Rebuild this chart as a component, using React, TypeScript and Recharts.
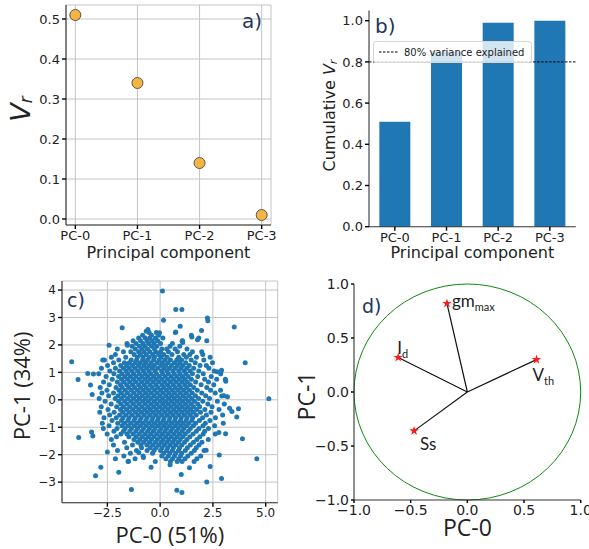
import {
  ScatterChart,
  Scatter,
  BarChart,
  Bar,
  XAxis,
  YAxis,
  CartesianGrid,
  ReferenceLine,
  ReferenceArea,
  Symbols,
} from "recharts";

// ---- panel a / b : explained variance ----
const pcLabels = ["PC-0", "PC-1", "PC-2", "PC-3"];
const varianceRatio = [0.51, 0.34, 0.14, 0.01];
const cumulativeRatio = [0.51, 0.85, 0.99, 1.0];
const varianceThreshold = 0.8;

const ticksA = [0, 0.1, 0.2, 0.3, 0.4, 0.5];
const ticksB = [0, 0.2, 0.4, 0.6, 0.8, 1.0];

// ---- panel c : scores (rows of PC-1 value -> PC-0 values) ----
const scoreRows: [number, number[]][] = [
  [2.45, [-0.52, -0.18, 0.72]],
  [2.35, [-0.83, -0.41, -0.07, 1.48]],
  [2.25, [-1.02, -0.71, -0.49, -0.22, 0.13, 1.83]],
  [2.15, [-1.28, -0.93, -0.62, -0.38, -0.12, 1.06, 2.21]],
  [2.05, [-1.57, -1.14, -0.81, -0.55, -0.29, 0.02, 0.58]],
  [1.95, [-1.33, -0.98, -0.72, -0.41, -0.16, 0.47, 0.93]],
  [1.85, [-2.03, -1.18, -0.86, -0.6, -0.27, 0.08, 0.31, 0.71, 1.27]],
  [1.75, [-1.74, -1.39, -1.02, -0.77, -0.49, -0.21, 0.02, 0.39, 0.82, 1.53, 1.97]],
  [1.65, [-2.12, -1.23, -0.94, -0.66, -0.35, -0.08, 0.17, 0.56, 1.12, 1.41, 2.02]],
  [1.55, [-2.31, -1.63, -1.08, -0.81, -0.52, -0.27, 0.04, 0.33, 0.88, 1.24, 1.72, 2.37]],
  [1.45, [-2.64, -1.96, -1.37, -1.12, -0.83, -0.6, -0.31, -0.05, 0.22, 0.49, 0.79, 1.02, 1.47, 2.07]],
  [1.35, [-2.21, -1.69, -1.46, -1.18, -0.94, -0.69, -0.43, -0.14, 0.11, 0.37, 0.68, 0.93, 1.21, 1.66, 2.48]],
  [1.25, [-2.49, -1.87, -1.58, -1.31, -1.03, -0.77, -0.52, -0.28, 0.03, 0.26, 0.54, 0.82, 1.07, 1.38, 1.89, 2.19]],
  [1.15, [-2.78, -2.12, -1.74, -1.47, -1.19, -0.91, -0.64, -0.37, -0.11, 0.18, 0.43, 0.71, 0.99, 1.26, 1.59, 2.31]],
  [1.05, [-2.38, -1.92, -1.61, -1.35, -1.07, -0.8, -0.53, -0.24, 0.07, 0.32, 0.6, 0.88, 1.14, 1.42, 1.83, 2.56]],
  [0.95, [-2.91, -2.19, -1.81, -1.54, -1.26, -0.98, -0.71, -0.44, -0.17, 0.12, 0.39, 0.67, 0.94, 1.22, 1.53, 2.04, 2.87]],
  [0.85, [-2.56, -1.97, -1.68, -1.41, -1.14, -0.86, -0.59, -0.31, -0.04, 0.24, 0.52, 0.79, 1.06, 1.33, 1.78, 2.42]],
  [0.75, [-2.27, -1.83, -1.55, -1.27, -0.99, -0.72, -0.46, -0.19, 0.08, 0.36, 0.63, 0.91, 1.17, 1.48, 2.11, 2.68, 3.09]],
  [0.65, [-2.68, -2.03, -1.73, -1.44, -1.16, -0.88, -0.61, -0.33, -0.06, 0.21, 0.49, 0.76, 1.03, 1.29, 1.68, 2.29]],
  [0.55, [-2.41, -1.88, -1.59, -1.31, -1.02, -0.75, -0.48, -0.2, 0.09, 0.35, 0.62, 0.9, 1.17, 1.43, 1.94, 2.54]],
  [0.45, [-2.84, -2.09, -1.8, -1.49, -1.21, -0.93, -0.66, -0.38, -0.11, 0.17, 0.44, 0.72, 0.98, 1.26, 1.59, 2.21]],
  [0.35, [-2.52, -1.95, -1.66, -1.37, -1.08, -0.81, -0.54, -0.26, 0.02, 0.3, 0.57, 0.84, 1.11, 1.39, 1.76, 2.39, 2.86]],
  [0.25, [-2.76, -2.21, -1.84, -1.55, -1.25, -0.97, -0.69, -0.42, -0.14, 0.14, 0.41, 0.68, 0.96, 1.23, 1.52, 1.97, 2.61]],
  [0.15, [-2.44, -1.99, -1.71, -1.41, -1.12, -0.84, -0.57, -0.29, -0.01, 0.27, 0.54, 0.81, 1.09, 1.36, 1.67, 2.16, 3.02]],
  [0.05, [-2.89, -2.13, -1.83, -1.54, -1.26, -0.98, -0.7, -0.43, -0.15, 0.12, 0.4, 0.67, 0.94, 1.21, 1.49, 1.82, 2.34]],
  [-0.05, [-2.61, -1.97, -1.68, -1.39, -1.11, -0.83, -0.56, -0.28, 0.0, 0.26, 0.53, 0.8, 1.07, 1.34, 1.62, 2.02, 2.71]],
  [-0.15, [-2.32, -1.86, -1.57, -1.27, -0.99, -0.71, -0.43, -0.16, 0.13, 0.39, 0.66, 0.93, 1.2, 1.47, 1.78, 2.26, 3.04]],
  [-0.25, [-2.79, -2.06, -1.74, -1.44, -1.15, -0.86, -0.58, -0.31, -0.03, 0.24, 0.51, 0.78, 1.05, 1.31, 1.58, 1.87, 2.46]],
  [-0.35, [-2.47, -1.88, -1.59, -1.3, -1.01, -0.73, -0.46, -0.18, 0.1, 0.37, 0.64, 0.91, 1.18, 1.44, 1.73, 2.12, 2.79]],
  [-0.45, [-2.86, -2.18, -1.77, -1.46, -1.17, -0.89, -0.61, -0.33, -0.06, 0.22, 0.49, 0.76, 1.03, 1.3, 1.57, 1.91, 2.41]],
  [-0.55, [-2.39, -1.92, -1.62, -1.33, -1.04, -0.76, -0.48, -0.21, 0.07, 0.34, 0.61, 0.88, 1.15, 1.42, 1.71, 2.19, 2.96]],
  [-0.65, [-2.66, -2.08, -1.76, -1.47, -1.18, -0.9, -0.62, -0.35, -0.08, 0.19, 0.46, 0.73, 1.0, 1.27, 1.54, 2.01, 2.62]],
  [-0.75, [-2.28, -1.83, -1.53, -1.24, -0.96, -0.68, -0.4, -0.13, 0.15, 0.42, 0.69, 0.96, 1.23, 1.5, 1.86, 2.36]],
  [-0.85, [-2.74, -2.01, -1.69, -1.39, -1.1, -0.82, -0.54, -0.27, 0.01, 0.28, 0.55, 0.82, 1.09, 1.36, 1.68, 2.14, 2.99]],
  [-0.95, [-2.42, -1.81, -1.51, -1.22, -0.94, -0.66, -0.38, -0.11, 0.17, 0.44, 0.71, 0.98, 1.25, 1.57, 2.03, 2.58]],
  [-1.05, [-2.69, -2.04, -1.66, -1.36, -1.07, -0.79, -0.51, -0.24, 0.04, 0.31, 0.58, 0.85, 1.12, 1.43, 1.84, 2.29]],
  [-1.15, [-2.19, -1.74, -1.44, -1.15, -0.87, -0.59, -0.32, -0.04, 0.23, 0.5, 0.77, 1.04, 1.33, 1.72, 2.11]],
  [-1.25, [-2.51, -1.86, -1.57, -1.28, -0.99, -0.71, -0.44, -0.16, 0.11, 0.38, 0.65, 0.92, 1.19, 1.56, 2.04, 2.61]],
  [-1.35, [-2.07, -1.48, -1.13, -0.84, -0.56, -0.29, -0.01, 0.26, 0.53, 0.8, 1.07, 1.41, 1.88]],
  [-1.45, [-2.31, -1.24, -0.96, -0.68, -0.41, -0.13, 0.14, 0.41, 0.68, 0.95, 1.27, 1.74, 2.28]],
  [-1.55, [-1.69, -1.06, -0.78, -0.5, -0.22, 0.05, 0.32, 0.59, 0.86, 1.16, 1.58, 1.98]],
  [-1.65, [-2.21, -1.31, -0.91, -0.63, -0.35, -0.07, 0.2, 0.47, 0.74, 1.03, 1.43, 1.84]],
  [-1.75, [-1.58, -0.88, -0.47, -0.19, 0.09, 0.36, 0.63, 0.92, 1.29, 1.71]],
  [-1.85, [-2.02, -1.12, -0.62, -0.29, 0.02, 0.31, 0.58, 0.87, 1.19, 1.62, 2.08]],
  [-1.95, [-1.41, -0.36, 0.17, 0.46, 0.74, 1.02, 1.47]],
  [-2.05, [-1.72, -0.81, 0.08, 0.39, 0.68, 0.97, 1.31, 1.92]],
  [-2.15, [-2.12, -1.19, 0.27, 0.59, 0.88, 1.18, 1.74]],
  [-2.25, [-1.52, -0.23, 0.49, 0.81, 1.04, 1.61]],
];

const scoreOutliers: [number, number][] = [
  [0.11, 3.97], [0.74, 3.29], [1.03, 3.29], [0.16, 2.9], [2.24, 2.98], [2.26, 2.88],
  [3.51, 2.65], [-1.8, 2.63], [0.95, 2.68], [-0.58, 2.56], [-0.66, 2.5], [0.74, 2.47],
  [1.04, 2.14], [1.07, 2.09], [1.96, 2.53], [1.77, 2.19], [1.5, 2.29], [-0.03, 2.44],
  [-2.42, 1.99], [-1.55, 1.99], [-2.72, 1.45], [-4.19, 1.39], [4.03, 1.35], [-3.89, 0.74],
  [-3.43, 0.96], [-3.16, 0.94], [-3.3, 0.54], [-3.22, 0.19], [5.15, 0.04], [-3.86, -1.37],
  [-3.25, -1.17], [-3.19, -1.32], [3.9, -1.42], [4.58, -2.15], [-2.5, -1.9], [-2.81, -2.46],
  [-3.06, -2.77], [-1.96, -2.64], [-1.36, -3.27], [0.79, -3.3], [1.03, -3.38], [2.21, -3.0],
  [2.91, -2.87], [1.0, -2.72], [-0.43, -2.46], [0.47, -2.37], [1.39, -2.48], [2.37, -2.43],
  [2.8, -2.01], [2.18, -1.84], [2.78, -1.19], [3.1, -1.24], [3.29, -0.31], [3.4, -0.43],
  [3.63, -0.63], [3.71, -0.33], [3.11, 0.68], [2.91, 1.08], [2.7, 1.02], [3.19, 0.11],
  [2.92, 0.14], [-0.79, -2.1], [-1.01, -1.92], [-1.5, -2.24],
];

const ticksCX = [-2.5, 0, 2.5, 5];
const ticksCY = [-3, -2, -1, 0, 1, 2, 3, 4];

// ---- panel d : loadings ----
const loadingNames = ["gm", "I", "V", "Ss"];
const loadingSubs = ["max", "d", "th", ""];
const loadingX = [-0.18, -0.61, 0.61, -0.47];
const loadingY = [0.82, 0.32, 0.3, -0.36];
const ticksD = [-1, -0.5, 0, 0.5, 1];

const varianceData = pcLabels.map((pc, i) => ({ x: i, y: varianceRatio[i] }));
const cumulativeData = pcLabels.map((pc, i) => ({ pc, v: cumulativeRatio[i] }));
const scoreData = scoreRows
  .flatMap(([y, xs]) => xs.map((x) => ({ x, y })))
  .concat(scoreOutliers.map(([x, y]) => ({ x, y })));
const loadingData = loadingNames.map((name, i) => ({
  name,
  sub: loadingSubs[i],
  x: loadingX[i],
  y: loadingY[i],
}));

// label offsets relative to each star (pixels)
const labelOffset: Record<string, [number, number]> = {
  gm: [5, 4],
  I: [-1, -3],
  V: [-4, 21],
  Ss: [6, 19],
};

const spine = { stroke: "#333", strokeWidth: 1.1 };
const tickMark = { stroke: "#000", strokeWidth: 1.4 };
const tickFont = (size: number) => ({ fill: "#222", fontSize: size, fontFamily: "DejaVu Sans" });
const withMinus = (v: number, digits: number) => {
  const s = Math.abs(v).toFixed(digits);
  return v < 0 ? "\u2212" + s : s;
};
const letterStyle: any = {
  position: "absolute",
  fontFamily: "DejaVu Sans",
  color: "#1c3560",
  lineHeight: 1,
};

function xTitle(text: any, dy: number, size: number, family: string) {
  return (props: any) => {
    const { x, y, width } = props.viewBox;
    return (
      <text x={x + width / 2} y={y + dy} textAnchor="middle" fontSize={size} fontFamily={family} fill="#222">
        {text}
      </text>
    );
  };
}

function yTitle(content: any, cx: number, dyMid: number, size: number, family: string) {
  return (props: any) => {
    const { x, y, height } = props.viewBox;
    const px = x + cx;
    const py = y + height / 2 + dyMid;
    return (
      <text
        x={px}
        y={py}
        transform={`rotate(-90, ${px}, ${py})`}
        textAnchor="middle"
        dominantBaseline="central"
        fontSize={size}
        fontFamily={family}
        fill="#222"
      >
        {content}
      </text>
    );
  };
}

export default function App() {
  return (
    <div style={{ position: "absolute", left: 0, top: 0, width: 589, height: 549, background: "#fff" }}>
      {/* a) */}
      <div style={{ position: "absolute", left: 0, top: 0 }}>
        <ScatterChart width={295} height={270} margin={{ top: 5, right: 24, left: 0, bottom: 0 }}>
          <CartesianGrid stroke="#c4c4c4" strokeWidth={1} />
          <XAxis
            type="number"
            dataKey="x"
            domain={[-0.15, 3.15]}
            ticks={[0, 1, 2, 3]}
            interval={0}
            tickFormatter={(v) => pcLabels[v]}
            height={45}
            axisLine={spine}
            tickLine={tickMark}
            tickSize={4}
            tick={tickFont(13)}
            label={xTitle("Principal component", 33, 16, "DejaVu Sans")}
          />
          <YAxis
            type="number"
            dataKey="y"
            domain={[-0.015, 0.535]}
            ticks={ticksA}
            interval={0}
            tickFormatter={(v) => v.toFixed(1)}
            width={66}
            axisLine={spine}
            tickLine={tickMark}
            tickSize={4}
            tick={tickFont(13)}
            label={yTitle(
              <>
                <tspan fontStyle="italic">V</tspan>
                <tspan fontStyle="italic" fontSize={17} dy={6}>r</tspan>
              </>,
              20,
              -6,
              27,
              "DejaVu Sans"
            )}
          />
          <XAxis xAxisId="top" orientation="top" type="number" domain={[-0.15, 3.15]} height={0} tick={false} tickLine={false} axisLine={spine} />
          <YAxis yAxisId="right" orientation="right" type="number" domain={[-0.015, 0.535]} width={0} tick={false} tickLine={false} axisLine={spine} />
          <Scatter
            data={varianceData}
            isAnimationActive={false}
            shape={(p: any) => <circle cx={p.cx} cy={p.cy} r={5.5} fill="#f6b443" stroke="#4a4a4a" strokeWidth={0.9} />}
          />
        </ScatterChart>
        <span style={{ ...letterStyle, left: 242, top: 11, fontSize: 20 }}>a)</span>
      </div>

      {/* b) */}
      <div style={{ position: "absolute", left: 295, top: 0 }}>
        <BarChart width={294} height={270} data={cumulativeData} margin={{ top: 10.4, right: 13.3, left: 0, bottom: 0 }} barCategoryGap="20%">
          <XAxis
            dataKey="pc"
            height={43.3}
            axisLine={spine}
            tickLine={tickMark}
            tickSize={4}
            tick={tickFont(13)}
            interval={0}
            label={xTitle("Principal component", 31.5, 16, "DejaVu Sans")}
          />
          <YAxis
            type="number"
            domain={[0, 1.05]}
            ticks={ticksB}
            interval={0}
            tickFormatter={(v) => v.toFixed(1)}
            width={74}
            axisLine={spine}
            tickLine={tickMark}
            tickSize={4}
            tick={tickFont(13)}
            label={yTitle(
              <>
                <tspan>Cumulative </tspan>
                <tspan fontStyle="italic">V</tspan>
                <tspan fontStyle="italic" fontSize={11} dy={4}>r</tspan>
              </>,
              34,
              -3,
              16,
              "DejaVu Sans"
            )}
          />
          <XAxis xAxisId="top" orientation="top" dataKey="pc" height={0} tick={false} tickLine={false} axisLine={spine} />
          <YAxis yAxisId="right" orientation="right" type="number" domain={[0, 1.05]} width={0} tick={false} tickLine={false} axisLine={spine} />
          <Bar dataKey="v" fill="#1f77b4" isAnimationActive={false} />
          <ReferenceLine y={varianceThreshold} stroke="#000" strokeWidth={1} strokeDasharray="2.5 1.5" />
        </BarChart>
        <span style={{ ...letterStyle, left: 80, top: 16, fontSize: 20 }}>b)</span>
        <div
          style={{
            position: "absolute",
            left: 78,
            top: 41,
            width: 157,
            height: 20,
            background: "rgba(255,255,255,0.8)",
            border: "1px solid #d6d6d6",
            borderRadius: 3,
            display: "flex",
            alignItems: "center",
          }}
        >
          <svg width={30} height={20}>
            <line x1={5} x2={24} y1={10} y2={10} stroke="#000" strokeWidth={1} strokeDasharray="2.5 1.5" />
          </svg>
          <span style={{ fontFamily: "DejaVu Sans", fontSize: 10, color: "#222" }}>80% variance explained</span>
        </div>
      </div>

      {/* c) */}
      <div style={{ position: "absolute", left: 0, top: 270 }}>
        <ScatterChart width={295} height={279} margin={{ top: 11, right: 17.3, left: 0, bottom: 0 }}>
          <CartesianGrid stroke="#c4c4c4" strokeWidth={1} />
          <XAxis
            type="number"
            dataKey="x"
            domain={[-4.65, 5.57]}
            ticks={ticksCX}
            interval={0}
            tickFormatter={(v) => withMinus(v, 1)}
            height={46.3}
            axisLine={spine}
            tickLine={tickMark}
            tickSize={4}
            tick={tickFont(12)}
            label={xTitle("PC-0 (51%)", 40, 22, "Open Sans")}
          />
          <YAxis
            type="number"
            dataKey="y"
            domain={[-3.75, 4.33]}
            ticks={ticksCY}
            interval={0}
            tickFormatter={(v) => withMinus(v, 0)}
            width={62}
            axisLine={spine}
            tickLine={tickMark}
            tickSize={4}
            tick={tickFont(12)}
            label={yTitle("PC-1 (34%)", 21, -6, 22, "Open Sans")}
          />
          <XAxis xAxisId="top" orientation="top" type="number" domain={[-4.65, 5.57]} height={0} tick={false} tickLine={false} axisLine={spine} />
          <YAxis yAxisId="right" orientation="right" type="number" domain={[-3.75, 4.33]} width={0} tick={false} tickLine={false} axisLine={spine} />
          <Scatter
            data={scoreData}
            isAnimationActive={false}
            shape={(p: any) => <circle cx={p.cx} cy={p.cy} r={2.5} fill="#1f77b4" />}
          />
        </ScatterChart>
        <span style={{ ...letterStyle, left: 67, top: 21, fontSize: 19 }}>c)</span>
      </div>

      {/* d) */}
      <div style={{ position: "absolute", left: 295, top: 270 }}>
        <ScatterChart width={294} height={279} margin={{ top: 14, right: 8.3, left: 0, bottom: 0 }}>
          <XAxis
            type="number"
            dataKey="x"
            domain={[-1, 1]}
            ticks={ticksD}
            interval={0}
            tickFormatter={(v) => withMinus(v, 1)}
            height={49}
            axisLine={spine}
            tickLine={tickMark}
            tickSize={3}
            tick={tickFont(14)}
            label={xTitle("PC-0", 36, 23, "Open Sans")}
          />
          <YAxis
            type="number"
            dataKey="y"
            domain={[-1, 1]}
            ticks={ticksD}
            interval={0}
            tickFormatter={(v) => withMinus(v, 1)}
            width={59}
            axisLine={spine}
            tickLine={tickMark}
            tickSize={3}
            tick={tickFont(14)}
            label={yTitle("PC-1", 11, 4, 23, "Open Sans")}
          />
          <XAxis xAxisId="top" orientation="top" type="number" domain={[-1, 1]} height={0} tick={false} tickLine={false} axisLine={spine} />
          <YAxis yAxisId="right" orientation="right" type="number" domain={[-1, 1]} width={0} tick={false} tickLine={false} axisLine={spine} />
          <ReferenceArea
            x1={-1}
            x2={1}
            y1={-1}
            y2={1}
            shape={(p: any) => (
              <ellipse
                cx={p.x + p.width / 2}
                cy={p.y + p.height / 2}
                rx={p.width / 2}
                ry={p.height / 2}
                fill="none"
                stroke="#118811"
                strokeWidth={1}
              />
            )}
          />
          {loadingData.map((d) => (
            <ReferenceLine
              key={d.name}
              segment={[
                { x: 0, y: 0 },
                { x: d.x, y: d.y },
              ]}
              stroke="#111"
              strokeWidth={1.2}
            />
          ))}
          <Scatter
            data={loadingData}
            isAnimationActive={false}
            shape={(p: any) => {
              const [dx, dy] = labelOffset[p.payload.name];
              return (
                <g>
                  <Symbols type="star" cx={p.cx} cy={p.cy} size={28} fill="#ff1a1a" />
                  <text x={p.cx + dx} y={p.cy + dy} fontFamily="Lato" fontSize={17} fill="#222">
                    {p.payload.name}
                    {p.payload.sub ? (
                      <tspan fontSize={11} dy={4}>
                        {p.payload.sub}
                      </tspan>
                    ) : null}
                  </text>
                </g>
              );
            }}
          />
        </ScatterChart>
        <span style={{ ...letterStyle, left: 67, top: 27, fontSize: 19 }}>d)</span>
      </div>
    </div>
  );
}
